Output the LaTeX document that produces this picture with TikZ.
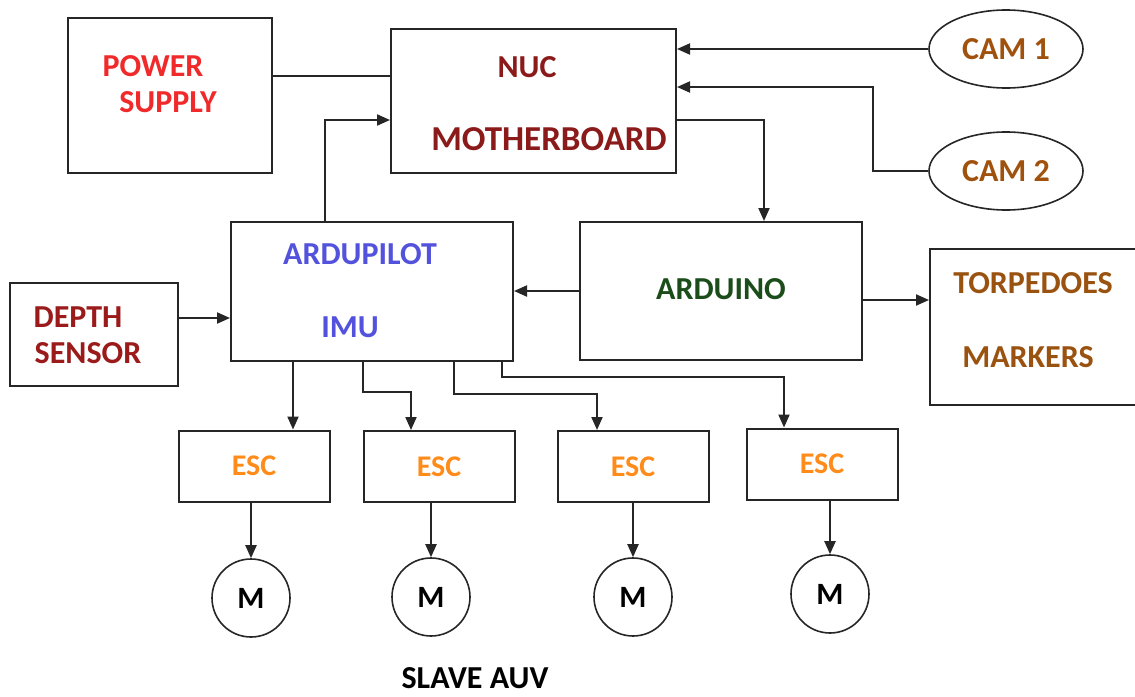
\documentclass[tikz,border=0pt]{standalone}
\usepackage{fontspec}
\setmainfont{Carlito}
\usetikzlibrary{arrows.meta,shapes.geometric}
\definecolor{powercol}{HTML}{F02A2A}
\definecolor{nuccol}{HTML}{8B1A1A}
\definecolor{ardupcol}{HTML}{5252DC}
\definecolor{arduinocol}{HTML}{1A4D1A}
\definecolor{camcol}{HTML}{A0520D}
\definecolor{torpcol}{HTML}{9A5210}
\definecolor{depthcol}{HTML}{9B1B1B}
\definecolor{esccol}{HTML}{FF8C1A}
\definecolor{linecol}{HTML}{262626}
\begin{document}
\begin{tikzpicture}[x=1pt,y=-1pt,
  box/.style={draw=linecol,line width=2pt,rectangle,inner sep=0pt},
  lbl/.style={font=\fontsize{32}{36}\selectfont\bfseries,anchor=base,inner sep=0pt},
  escbox/.style={box,minimum width=151pt,minimum height=71pt,text=esccol,font=\fontsize{30}{34}\selectfont\bfseries},
  camnode/.style={draw=linecol,line width=1.6pt,ellipse,minimum width=154pt,minimum height=78pt,inner sep=0pt,text=camcol,font=\fontsize{32}{36}\selectfont\bfseries},
  motor/.style={draw=linecol,line width=1.6pt,circle,minimum size=78pt,inner sep=0pt,font=\fontsize{31}{34}\selectfont\bfseries},
  conn/.style={draw=linecol,line width=2pt},
  arr/.style={conn,-{Triangle[length=13pt,width=11pt]}}]
\clip (0,0) rectangle (1135,696);
\fill[white] (0,0) rectangle (1135,696);
% boxes
\node[box,minimum width=204pt,minimum height=155pt] (ps) at (170,95.5) {};
\node[box,minimum width=285pt,minimum height=144pt] (nuc) at (533.5,101) {};
\node[box,minimum width=282pt,minimum height=139pt] (ardu) at (372,291.5) {};
\node[box,minimum width=168pt,minimum height=103pt] (depth) at (94,334.5) {};
\node[box,minimum width=282pt,minimum height=138pt] (arduino) at (721,291) {};
\node[box,minimum width=210pt,minimum height=156pt] (torp) at (1035,327) {};
\node[camnode] (cam1) at (1006,49) {CAM 1};
\node[camnode] (cam2) at (1006,171) {CAM 2};
% texts
\node[lbl,text=powercol] (t1) at (153,76) {POWER};
\node[lbl,text=powercol] (t2) at (168,112) {SUPPLY};
\node[lbl,text=nuccol] (t3) at (527,77) {NUC};
\node[lbl,text=nuccol,font=\fontsize{35}{38}\selectfont\bfseries] (t4) at (549,150) {MOTHERBOARD};
\node[lbl,text=ardupcol] (t5) at (360,264) {ARDUPILOT};
\node[lbl,text=ardupcol] (t6) at (350,337) {IMU};
\node[lbl,text=arduinocol] (t7) at (721,299) {ARDUINO};
\node[lbl,text=depthcol] (t8) at (78,327) {DEPTH};
\node[lbl,text=depthcol] (t9) at (88,363) {SENSOR};
\node[lbl,text=torpcol] (t10) at (1033,293) {TORPEDOES};
\node[lbl,text=torpcol] (t11) at (1028,367) {MARKERS};
\node[lbl,text=black] (t12) at (475,688) {SLAVE AUV};
% ESCs and motors
\node[escbox] (esc1) at (254,466) {ESC};
\node[escbox] (esc2) at (439,466.5) {ESC};
\node[escbox] (esc3) at (633,466.5) {ESC};
\node[escbox] (esc4) at (822,464) {ESC};
\node[motor] (m1) at (251,598) {M};
\node[motor] (m2) at (431,597) {M};
\node[motor] (m3) at (633,597) {M};
\node[motor] (m4) at (830,594) {M};
% connectors
\draw[conn] ([yshift=19.5pt]ps.east) coordinate (p1) -- (p1 -| nuc.west);
\draw[arr] (cam1.west) -- (cam1.west -| nuc.east);
\draw[arr] (cam2.west) -- (873,171) |- ([yshift=14pt]nuc.east);
\draw[arr] ([yshift=-19pt]nuc.east) -| ([xshift=43pt]arduino.north);
\draw[arr] ([xshift=-47pt]ardu.north) |- ([yshift=-19pt]nuc.west);
\draw[arr] ([yshift=16.5pt]depth.east) coordinate (d1) -- (d1 -| ardu.west);
\draw[arr] (arduino.west) -- (arduino.west -| ardu.east);
\draw[arr] ([yshift=-9pt]arduino.east) coordinate (a1) -- (a1 -| torp.west);
\draw[arr] ([xshift=-79pt]ardu.south) coordinate (e1) -- (e1 |- esc1.north);
\draw[arr] ([xshift=-9pt]ardu.south) -- ++(0,30) -| ([xshift=-28pt]esc2.north);
\draw[arr] ([xshift=82pt]ardu.south) -- ++(0,32) -| ([xshift=-36pt]esc3.north);
\draw[arr] ([xshift=130pt]ardu.south) -- ++(0,15) -| ([xshift=-38pt]esc4.north);
\draw[arr] (m1.north |- esc1.south) -- (m1.north);
\draw[arr] (m2.north |- esc2.south) -- (m2.north);
\draw[arr] (m3.north |- esc3.south) -- (m3.north);
\draw[arr] (m4.north |- esc4.south) -- (m4.north);
\end{tikzpicture}
\end{document}
